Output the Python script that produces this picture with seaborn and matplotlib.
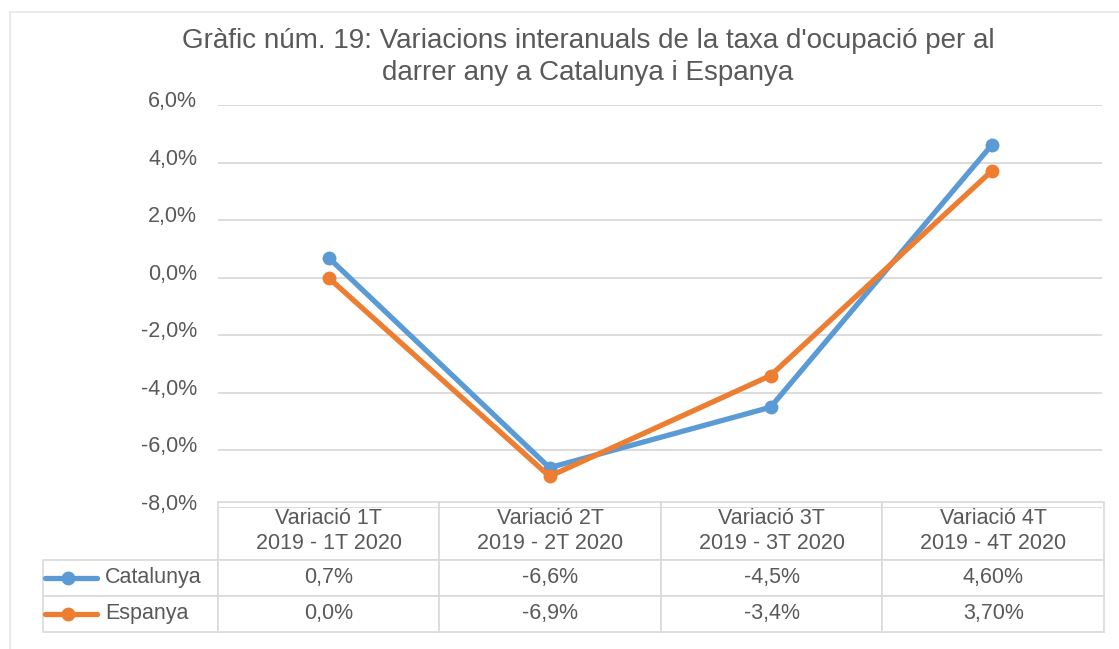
import pandas as pd
import matplotlib.pyplot as plt
import seaborn as sns
from matplotlib.lines import Line2D
from matplotlib.transforms import ScaledTranslation

periodes = ["Variació 1T\n2019 - 1T 2020", "Variació 2T\n2019 - 2T 2020",
            "Variació 3T\n2019 - 3T 2020", "Variació 4T\n2019 - 4T 2020"]
series = ["Catalunya", "Espanya"]
catalunya = [0.7, -6.6, -4.5, 4.6]
espanya = [0.0, -6.9, -3.4, 3.7]
catalunya_labels = ["0,7%", "-6,6%", "-4,5%", "4,60%"]
espanya_labels = ["0,0%", "-6,9%", "-3,4%", "3,70%"]
y_ticks = [-8, -6, -4, -2, 0, 2, 4, 6]

colors = {"Catalunya": "#5B9BD5", "Espanya": "#ED7D31"}
text_color = "#595959"
grid_color = "#D9D9D9"

sns.set_style("white")
plt.rcParams['font.family'] = ['Liberation Sans', 'DejaVu Sans']

df = pd.DataFrame({
    "periode": periodes * 2,
    "valor": catalunya + espanya,
    "serie": [series[0]] * 4 + [series[1]] * 4,
})

W, H = 1119, 649
AW, AH = 884, 403  # axes size in px
fig = plt.figure(figsize=(W / 100, H / 100), dpi=100)
ax = fig.add_axes([218 / W, (H - 508) / H, AW / W, AH / H])

sns.lineplot(data=df, x="periode", y="valor", hue="serie", palette=colors,
             marker="o", markersize=10, markeredgewidth=0, linewidth=3.8,
             sort=False, legend=False, ax=ax)

ax.set_xlim(-0.5, 3.5)
ax.set_ylim(-8, 6)
ax.set_yticks(y_ticks)
ax.set_yticklabels([f"{v:.1f}%".replace(".", ",") for v in y_ticks])
ax.tick_params(axis="y", length=0, pad=15, labelsize=15.5, labelcolor=text_color)
# Excel draws the axis labels a little above their gridlines
for lab in ax.get_yticklabels():
    lab.set_transform(lab.get_transform() + ScaledTranslation(0, 0.06, fig.dpi_scale_trans))
ax.set_xticks([])
ax.set_xlabel("")
ax.set_ylabel("")
ax.grid(axis="y", color=grid_color, linewidth=1.3)
ax.set_axisbelow(True)
for s in ax.spines.values():
    s.set_visible(False)

# data table under the chart (bbox covers the data grid, row labels hang to the left)
row_w = 175 / AW
tbl = ax.table(cellText=[catalunya_labels, espanya_labels],
               rowLabels=series, colLabels=periodes,
               cellLoc="center", rowLoc="left",
               bbox=[0, -124 / AH, 886 / AW, 130 / AH])
tbl.auto_set_font_size(False)
# keep the row-label column at a fixed width
tbl._autoColumns = [c for c in tbl._autoColumns if c != -1]
for (r, c), cell in tbl.get_celld().items():
    cell.set_edgecolor(grid_color)
    cell.set_linewidth(1.2)
    txt = cell.get_text()
    txt.set_color(text_color)
    txt.set_fontsize(15.5)
    txt.set_linespacing(1.3)
    cell.set_width(row_w if c == -1 else 221.5 / AW)
    cell.set_height((58 if r == 0 else 36) / AH)
    if c == -1:
        cell.PAD = 0.354

# legend keys inside the table
for i, name in enumerate(series):
    yk = (508 - (578 + 36 * i)) / AH
    ax.add_line(Line2D([(45 - 218) / AW, (97 - 218) / AW], [yk, yk],
                       transform=ax.transAxes, color=colors[name], linewidth=3.8,
                       clip_on=False))
    ax.add_line(Line2D([(68 - 218) / AW], [yk], transform=ax.transAxes,
                       color=colors[name], marker="o", markersize=10,
                       markeredgewidth=0, clip_on=False))

fig.text(588 / W, 1 - 57 / H,
         "Gràfic núm. 19: Variacions interanuals de la taxa d'ocupació per al\n"
         "darrer any a Catalunya i Espanya",
         ha="center", va="center", fontsize=20, color=text_color, linespacing=1.32)

# light outer frame
fig.add_artist(Line2D([10 / W, 10 / W], [0, 1 - 12 / H], transform=fig.transFigure,
                      color="#E6E6E6", linewidth=1.2))
fig.add_artist(Line2D([10 / W, 1], [1 - 12 / H, 1 - 12 / H], transform=fig.transFigure,
                      color="#E6E6E6", linewidth=1.2))

fig.savefig("out.png", dpi=100)
